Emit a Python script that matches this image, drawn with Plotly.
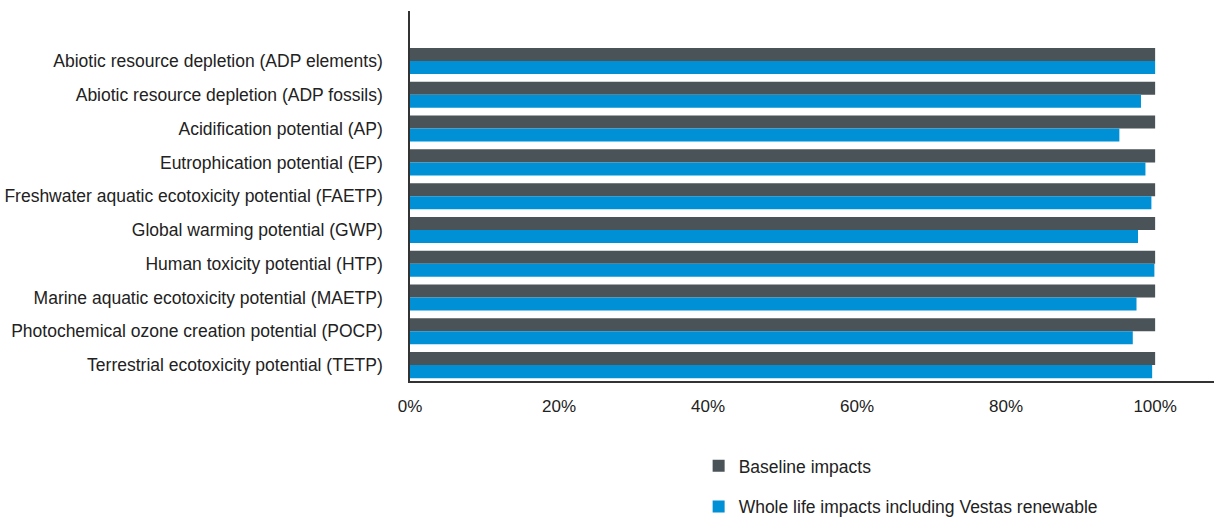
import plotly.graph_objects as go

categories = [
    "Abiotic resource depletion (ADP elements)",
    "Abiotic resource depletion (ADP fossils)",
    "Acidification potential (AP)",
    "Eutrophication potential (EP)",
    "Freshwater aquatic ecotoxicity potential (FAETP)",
    "Global warming potential (GWP)",
    "Human toxicity potential (HTP)",
    "Marine aquatic ecotoxicity potential (MAETP)",
    "Photochemical ozone creation potential (POCP)",
    "Terrestrial ecotoxicity potential (TETP)",
]
baseline = [100, 100, 100, 100, 100, 100, 100, 100, 100, 100]
whole_life = [100, 98.1, 95.2, 98.7, 99.5, 97.7, 99.9, 97.5, 97.0, 99.6]
x_ticks = [0, 20, 40, 60, 80, 100]
x_tick_labels = ["0%", "20%", "40%", "60%", "80%", "100%"]

fig = go.Figure()
fig.add_trace(go.Bar(
    y=categories, x=baseline, orientation="h",
    name="Baseline impacts", marker=dict(color="#4a5358", line=dict(width=0)),
    legendgroup="a",
))
fig.add_trace(go.Bar(
    y=categories, x=whole_life, orientation="h",
    name="Whole life impacts including Vestas renewable",
    marker=dict(color="#0090d6", line=dict(width=0)),
    legendgroup="b",
))

fig.update_layout(
    width=1214, height=517,
    margin=dict(l=410, r=0, t=11, b=136, autoexpand=False),
    paper_bgcolor="white", plot_bgcolor="white",
    barmode="group", bargap=0.23, bargroupgap=0,
    font=dict(family="Liberation Sans, Arial, sans-serif", size=17.5, color="#222222"),
    legend=dict(
        x=0.359, y=-0.181, xanchor="left", yanchor="top",
        orientation="v", tracegroupgap=15, traceorder="grouped",
        font=dict(size=17.5, color="#222222"), itemclick=False,
    ),
    showlegend=True,
)
fig.update_xaxes(
    range=[0, 107.9], tickvals=x_ticks, ticktext=x_tick_labels,
    showgrid=False, zeroline=False, showline=True, linecolor="#333333", linewidth=2,
    ticks="", ticklabelstandoff=9, tickfont=dict(size=17), automargin=False,
)
fig.update_yaxes(
    type="category", range=[9.47, -1.48], autorange=False,
    showgrid=False, zeroline=False, showline=True, linecolor="#333333", linewidth=1.5,
    ticks="", ticklabelstandoff=22, automargin=False,
)

fig.write_html(
    "out.html",
    config={"displayModeBar": False},
    post_script="document.body.style.margin='0';document.body.style.overflow='hidden';",
)
